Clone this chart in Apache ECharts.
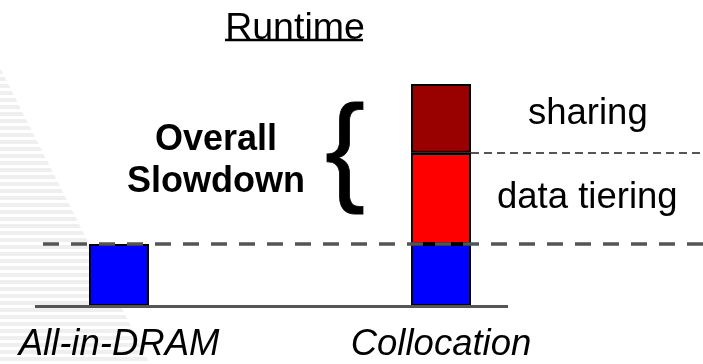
<!DOCTYPE html>
<html><head><meta charset="utf-8">
<script src="https://cdn.jsdelivr.net/npm/echarts@6/dist/echarts.min.js"></script>
<style>html,body{margin:0;padding:0;background:#fff}#c{width:703px;height:364px}</style>
</head><body><div id="c"></div>
<script>
const categories = ['All-in-DRAM', 'Collocation'];
const dramValues = [1.0, 1.0];
const tieringValues = [null, 1.47];
const sharingValues = [null, 1.11];
const seriesNames = ['DRAM', 'data tiering', 'sharing'];
const titleText = 'Runtime';
const slowdownText = 'Overall\nSlowdown';

const FONT = 'Liberation Sans, Arial, sans-serif';
const tierTop = dramValues[1] + tieringValues[1];

// faint striped background texture
const pc = document.createElement('canvas');
pc.width = 4; pc.height = 7;
const pctx = pc.getContext('2d');
pctx.fillStyle = '#ffffff'; pctx.fillRect(0, 0, 4, 7);
pctx.fillStyle = '#efefef'; pctx.fillRect(0, 0, 4, 4);

const chart = echarts.init(document.getElementById('c'), null, {renderer: 'canvas'});
const barBorder = {borderColor: '#000', borderWidth: 2};
chart.setOption({
  animation: false,
  backgroundColor: '#fff',
  grid: {left: 119, right: 262, top: 58, bottom: 58},
  xAxis: {
    type: 'category', data: categories, boundaryGap: false,
    axisLine: {show: false}, axisTick: {show: false}, splitLine: {show: false},
    axisLabel: {fontFamily: FONT, fontSize: 36.5, fontStyle: 'italic', color: '#000', margin: 20}
  },
  yAxis: {type: 'value', min: 0, max: 4, show: false, splitLine: {show: false}},
  title: {
    text: titleText, left: 290, top: 5, textAlign: 'center',
    textStyle: {fontFamily: FONT, fontSize: 37.5, fontWeight: 'normal', color: '#000'}
  },
  graphic: [
    {type: 'polygon', z: -10, silent: true, shape: {points: [[0, 68], [150, 364], [0, 364]]}, style: {fill: {image: pc, repeat: 'repeat'}}},
    {type: 'line', shape: {x1: 225, y1: 40, x2: 363, y2: 40}, style: {stroke: '#000', lineWidth: 2.5}},
    {type: 'text', x: 216, y: 161, style: {text: slowdownText, font: 'bold 36px ' + FONT, fill: '#000', align: 'center', verticalAlign: 'middle', lineHeight: 42}},
    {type: 'text', x: 345, y: 156, style: {text: '{', font: '120px ' + FONT, fill: '#000', align: 'center', verticalAlign: 'middle', stroke: '#000', lineWidth: 0.8}}
  ],
  series: [
    {
      name: seriesNames[0], type: 'bar', stack: 'rt', barWidth: 60, clip: false,
      data: dramValues, itemStyle: Object.assign({color: '#0000ff'}, barBorder),
      markLine: {
        silent: true, symbol: 'none', label: {show: false}, animation: false,
        data: [
          [{x: 35, yAxis: 0, lineStyle: {type: 'solid', color: '#555', width: 3}}, {x: 508, yAxis: 0}],
          [{x: 43, yAxis: dramValues[0], lineStyle: {type: [16, 12], color: '#555', width: 3.5}}, {x: 703, yAxis: dramValues[0]}]
        ]
      }
    },
    {
      name: seriesNames[1], type: 'bar', stack: 'rt', barWidth: 60, clip: false,
      data: tieringValues, itemStyle: Object.assign({color: '#ff0000'}, barBorder),
      label: {show: true, position: 'right', distance: 26, formatter: '{a}', fontFamily: FONT, fontSize: 36.5, color: '#000'},
      markLine: {
        silent: true, symbol: 'none', label: {show: false}, animation: false,
        data: [
          [{x: 471, yAxis: tierTop, lineStyle: {type: [8, 5], color: '#555', width: 2}}, {x: 703, yAxis: tierTop}]
        ]
      }
    },
    {
      name: seriesNames[2], type: 'bar', stack: 'rt', barWidth: 60, clip: false,
      data: sharingValues, itemStyle: Object.assign({color: '#990000'}, barBorder),
      label: {show: true, position: 'right', distance: 57, offset: [0, -5], formatter: '{a}', fontFamily: FONT, fontSize: 36.5, color: '#000'}
    }
  ]
});
</script></body></html>
